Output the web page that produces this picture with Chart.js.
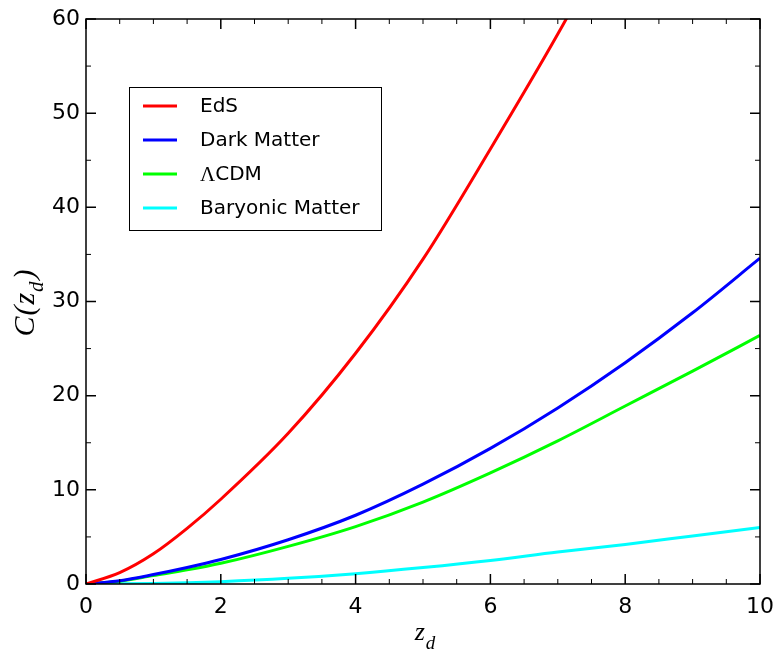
<!DOCTYPE html>
<html>
<head>
<meta charset="utf-8">
<script src="https://cdn.jsdelivr.net/npm/chart.js@4.4.0/dist/chart.umd.min.js"></script>
<style>
  html, body { margin: 0; padding: 0; background: #fff; }
</style>
</head>
<body>
<canvas id="chart" width="778" height="657"></canvas>
<script>
// ── Data ─────────────────────────────────────────────────
const zValues     = [0, 0.5, 1, 1.5, 2, 3, 4, 5, 6, 7, 8, 9, 10];
const edsValues   = [0, 1.2, 3.2, 5.9, 9.0, 16.0, 24.5, 34.5, 46.2, 58.4, 71.5, null, null];
const darkValues  = [0, 0.35, 1.0, 1.75, 2.6, 4.7, 7.3, 10.6, 14.4, 18.7, 23.5, 28.8, 34.6];
const lcdmValues  = [0, 0.3, 0.9, 1.5, 2.2, 4.0, 6.1, 8.7, 11.8, 15.2, 18.9, 22.6, 26.4];
const baryValues  = [0, 0.02, 0.06, 0.14, 0.25, 0.6, 1.1, 1.75, 2.5, 3.4, 4.2, 5.1, 6.0];

const seriesNames  = ['EdS', 'Dark Matter', 'ΛCDM', 'Baryonic Matter'];
const seriesColors = ['#ff0000', '#0000ff', '#00ff00', '#00ffff'];

const xTicks = [0, 2, 4, 6, 8, 10];
const yTicks = [0, 10, 20, 30, 40, 50, 60];

const toPoints = vals => zValues.map((z, i) => ({ x: z, y: vals[i] }));

const FONT = 'DejaVu Sans';
const SERIF = '"Liberation Serif"';

// draw a run of [text, font, dx, dy] pieces left to right
function drawPieces(ctx, pieces, x, y) {
    let cx = x;
    pieces.forEach(([t, f, gap, dy]) => {
        ctx.font = f;
        ctx.fillText(t, cx, y + dy);
        cx += ctx.measureText(t).width + gap;
    });
}
function piecesWidth(ctx, pieces) {
    let w = 0;
    pieces.forEach(([t, f, gap]) => { ctx.font = f; w += ctx.measureText(t).width + gap; });
    return w;
}

// ── Frame, inward ticks, axis titles and legend ──────────
const framePlugin = {
    id: 'frameTicks',
    afterDraw(chart) {
        const { ctx, chartArea: a, scales } = chart;
        const xs = scales.x, ys = scales.y;
        ctx.save();
        ctx.strokeStyle = '#000';

        // minor + major ticks on all four sides
        const tick = (len, w, vals, isX) => {
            ctx.lineWidth = w;
            ctx.beginPath();
            vals.forEach(v => {
                if (isX) {
                    const px = xs.getPixelForValue(v);
                    ctx.moveTo(px, a.bottom); ctx.lineTo(px, a.bottom - len);
                    ctx.moveTo(px, a.top);    ctx.lineTo(px, a.top + len);
                } else {
                    const py = ys.getPixelForValue(v);
                    ctx.moveTo(a.left, py);  ctx.lineTo(a.left + len, py);
                    ctx.moveTo(a.right, py); ctx.lineTo(a.right - len, py);
                }
            });
            ctx.stroke();
        };
        const minorX = [], minorY = [];
        for (let v = 0.5; v < 10; v += 0.5) if (v % 2 !== 0) minorX.push(v);
        for (let v = 5; v < 60; v += 10) minorY.push(v);
        tick(5, 1, minorX, true);
        tick(5, 1, minorY, false);
        tick(10, 1.5, xTicks, true);
        tick(10, 1.5, yTicks, false);

        ctx.lineWidth = 1.5;
        ctx.strokeRect(a.left, a.top, a.right - a.left, a.bottom - a.top);

        // axis titles (math italic with subscript d)
        ctx.fillStyle = '#000';
        ctx.textBaseline = 'alphabetic';
        ctx.textAlign = 'left';

        // x: z_d
        const xMain = 'italic 26px ' + SERIF, xSub = 'italic 19px ' + SERIF;
        const xPieces = [['z', xMain, 1, 0], ['d', xSub, 0, 9]];
        const xw = piecesWidth(ctx, xPieces);
        drawPieces(ctx, xPieces, (a.left + a.right) / 2 - xw / 2 + 2, 640);

        // y: C(z_d)
        const yMain = 'italic 30px ' + SERIF, ySub = 'italic 21px ' + SERIF;
        const yPieces = [['C', yMain, 1, 0], ['(', yMain, 1, 0], ['z', yMain, 1, 0],
                         ['d', ySub, 2, 9], [')', yMain, 0, 0]];
        ctx.save();
        ctx.translate(34, 303);
        ctx.rotate(-Math.PI / 2);
        const yw = piecesWidth(ctx, yPieces);
        drawPieces(ctx, yPieces, -yw / 2, 0);
        ctx.restore();

        // legend box
        const lx = 129, ly = 87, lw = 252, lh = 143;
        ctx.fillStyle = '#fff';
        ctx.fillRect(lx, ly, lw, lh);
        ctx.lineWidth = 1;
        ctx.strokeStyle = '#000';
        ctx.strokeRect(lx + 0.5, ly + 0.5, lw, lh);
        ctx.textBaseline = 'middle';
        const legFont = '20px "' + FONT + '"';
        chart.data.datasets.forEach((ds, i) => {
            const cy = 106 + i * 34;
            ctx.strokeStyle = ds.borderColor;
            ctx.lineWidth = 3;
            ctx.beginPath();
            ctx.moveTo(143, cy); ctx.lineTo(177, cy);
            ctx.stroke();
            ctx.fillStyle = '#000';
            if (ds.label.startsWith('Λ')) {
                drawPieces(ctx, [['Λ', '21px ' + SERIF, 0, 0], [ds.label.slice(1), legFont, 0, 0]], 200, cy + 1);
            } else {
                ctx.font = legFont;
                ctx.fillText(ds.label, 200, cy + 1);
            }
        });
        ctx.restore();
    }
};

new Chart(document.getElementById('chart'), {
    type: 'line',
    data: {
        datasets: [edsValues, darkValues, lcdmValues, baryValues].map((vals, i) => ({
            label: seriesNames[i],
            data: toPoints(vals),
            borderColor: seriesColors[i],
            backgroundColor: seriesColors[i],
            borderWidth: 3,
            pointRadius: 0,
            fill: false,
            cubicInterpolationMode: 'monotone'
        }))
    },
    options: {
        responsive: false,
        animation: false,
        layout: { padding: { top: 19, right: 18, left: 0, bottom: 0 } },
        plugins: { legend: { display: false }, tooltip: { enabled: false } },
        scales: {
            x: {
                type: 'linear',
                min: 0, max: 10,
                afterBuildTicks: s => { s.ticks = xTicks.map(v => ({ value: v })); },
                afterFit: s => { s.height = 73; s.paddingLeft = 0; s.paddingRight = 0; },
                grid: { display: false, drawTicks: false, tickLength: 0 },
                border: { display: false },
                ticks: { color: '#000', padding: 10, maxRotation: 0, font: { family: FONT, size: 22 } }
            },
            y: {
                min: 0, max: 60,
                afterBuildTicks: s => { s.ticks = yTicks.map(v => ({ value: v })); },
                afterFit: s => { s.width = 86; s.paddingTop = 0; s.paddingBottom = 0; },
                grid: { display: false, drawTicks: false, tickLength: 0 },
                border: { display: false },
                ticks: { color: '#000', padding: 6, font: { family: FONT, size: 22 } }
            }
        }
    },
    plugins: [framePlugin]
});
</script>
</body>
</html>
